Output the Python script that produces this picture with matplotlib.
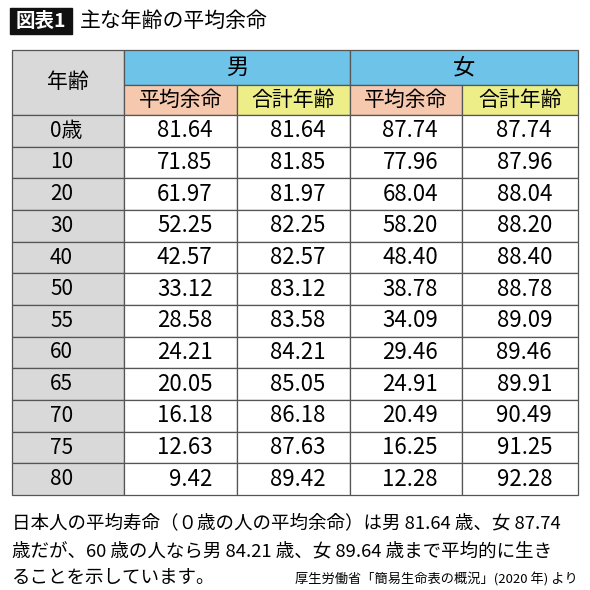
import matplotlib.pyplot as plt
from matplotlib.patches import Rectangle

plt.rcParams['font.family'] = ['Noto Sans CJK JP', 'DejaVu Sans']

ages = ['0歳', '10', '20', '30', '40', '50', '55', '60', '65', '70', '75', '80']
male_remain = [81.64, 71.85, 61.97, 52.25, 42.57, 33.12, 28.58, 24.21, 20.05, 16.18, 12.63, 9.42]
male_total = [81.64, 81.85, 81.97, 82.25, 82.57, 83.12, 83.58, 84.21, 85.05, 86.18, 87.63, 89.42]
female_remain = [87.74, 77.96, 68.04, 58.20, 48.40, 38.78, 34.09, 29.46, 24.91, 20.49, 16.25, 12.28]
female_total = [87.74, 87.96, 88.04, 88.20, 88.40, 88.78, 89.09, 89.46, 89.91, 90.49, 91.25, 92.28]
groups = ['男', '女']
subheads = ['平均余命', '合計年齢']

fig = plt.figure(figsize=(5.9, 5.9), dpi=100)
ax = fig.add_axes([0, 0, 1, 1])
ax.set_xlim(0, 590)
ax.set_ylim(590, 0)
ax.axis('off')

blue = '#6ec3e8'
salmon = '#f6c8ad'
yellow = '#eeee88'
grey = '#d9d9d9'
line = '#555555'

# title
ax.add_patch(Rectangle((10, 8), 62, 26, color='#111111'))
ax.text(41, 21, '図表1', color='white', fontsize=14, fontweight='bold', ha='center', va='center')
ax.text(80, 21, '主な年齢の平均余命', fontsize=15, ha='left', va='center')

cols = [12, 124, 237, 350, 462, 578]
top, h1, h2 = 50, 85, 115
nrows = len(ages)
rh = (495 - h2) / nrows

def cell(x0, x1, y0, y1, fc):
    ax.add_patch(Rectangle((x0, y0), x1 - x0, y1 - y0, facecolor=fc, edgecolor=line, lw=0.9))

cell(cols[0], cols[1], top, h2, grey)
ax.text((cols[0] + cols[1]) / 2, (top + h2) / 2, '年齢', fontsize=15, ha='center', va='center')
for g, name in enumerate(groups):
    x0, x1 = cols[1 + 2 * g], cols[3 + 2 * g]
    cell(x0, x1, top, h1, blue)
    ax.text((x0 + x1) / 2, (top + h1) / 2, name, fontsize=16, ha='center', va='center')
    for s, sub in enumerate(subheads):
        a, b = cols[1 + 2 * g + s], cols[2 + 2 * g + s]
        cell(a, b, h1, h2, salmon if s == 0 else yellow)
        ax.text((a + b) / 2, (h1 + h2) / 2, sub, fontsize=15, ha='center', va='center')

series = [male_remain, male_total, female_remain, female_total]
for i, age in enumerate(ages):
    y0 = h2 + i * rh
    cell(cols[0], cols[1], y0, y0 + rh, grey)
    ax.text(50, y0 + rh / 2, age, fontsize=15, ha='left', va='center')
    for j, vals in enumerate(series):
        a, b = cols[1 + j], cols[2 + j]
        cell(a, b, y0, y0 + rh, 'white')
        ax.text((a + b) / 2 + 32, y0 + rh / 2, f'{vals[i]:.2f}', fontsize=16, ha='right', va='center')

note1 = '日本人の平均寿命（０歳の人の平均余命）は男 81.64 歳、女 87.74'
note2 = '歳だが、60 歳の人なら男 84.21 歳、女 89.64 歳まで平均的に生き'
note3 = 'ることを示しています。'
ax.text(12, 523, note1, fontsize=13.3, ha='left', va='center')
ax.text(12, 551, note2, fontsize=13.3, ha='left', va='center')
ax.text(12, 578, note3, fontsize=13.3, ha='left', va='center')
ax.text(578, 579, '厚生労働省「簡易生命表の概況」(2020 年) より', fontsize=9.5, ha='right', va='center')

fig.savefig('out.png', dpi=100)
